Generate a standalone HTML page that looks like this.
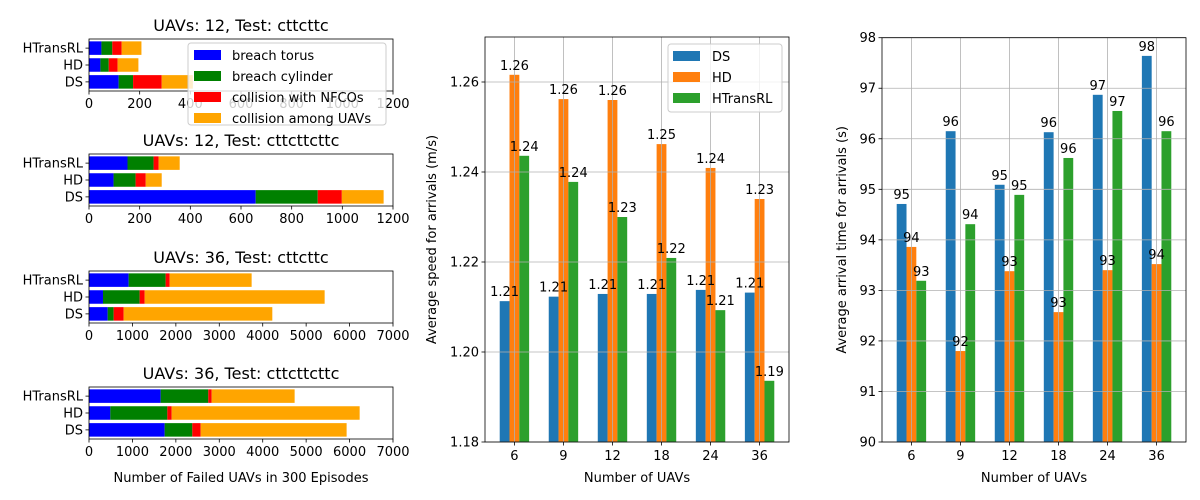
<!DOCTYPE html>
<html><head><meta charset="utf-8"><style>
html,body{margin:0;padding:0;background:#fff;}
svg{display:block;font-family:"DejaVu Sans","Liberation Sans",sans-serif;}
</style></head><body>
<svg id="fig" width="1200" height="500" viewBox="0 0 1200 500" xmlns="http://www.w3.org/2000/svg"></svg>
<script>
// ---------- data ----------
const methods = ["DS", "HD", "HTransRL"];
const failTypes = ["breach torus", "breach cylinder", "collision with NFCOs", "collision among UAVs"];
const failColors = ["#0000ff", "#008000", "#ff0000", "#ffa500"];
const panelTitles = ["UAVs: 12, Test: cttcttc", "UAVs: 12, Test: cttcttcttc", "UAVs: 36, Test: cttcttc", "UAVs: 36, Test: cttcttcttc"];
const panelXMax = [1200, 1200, 7000, 7000];
const panelTicks = [[0,200,400,600,800,1000,1200],[0,200,400,600,800,1000,1200],[0,1000,2000,3000,4000,5000,6000,7000],[0,1000,2000,3000,4000,5000,6000,7000]];
// cumulative ends per method [DS, HD, HTransRL], segments: torus, cylinder, NFCO, UAV
const p1 = [[117,174,287,410],[45,78,113,195],[49,92,129,207]];
const p2 = [[658,903,998,1163],[97,184,224,287],[152,255,275,358]];
const p3 = [[430,568,798,4221],[322,1166,1282,5426],[913,1765,1857,3745]];
const p4 = [[1742,2379,2571,5932],[491,1804,1903,6232],[1650,2747,2824,4735]];
const panelData = [p1, p2, p3, p4];

const uavs = ["6", "9", "12", "18", "24", "36"];
const speedDS = [1.2113, 1.2123, 1.2129, 1.2129, 1.2138, 1.2132];
const speedHD = [1.2616, 1.2562, 1.2560, 1.2462, 1.2409, 1.2340];
const speedHT = [1.2436, 1.2378, 1.2300, 1.2209, 1.2093, 1.1936];
const speedTicks = [1.18, 1.20, 1.22, 1.24, 1.26];
const timeDS = [94.71, 96.15, 95.09, 96.13, 96.87, 97.64];
const timeHD = [93.86, 91.80, 93.38, 92.57, 93.40, 93.52];
const timeHT = [93.19, 94.31, 94.89, 95.62, 96.55, 96.15];
const timeTicks = [90, 91, 92, 93, 94, 95, 96, 97, 98];
const barColors = ["#1f77b4", "#ff7f0e", "#2ca02c"];

// ---------- helpers ----------
const NS = "http://www.w3.org/2000/svg";
const svg = document.getElementById("fig");
function mk(tag, attrs, parent, text) {
  const e = document.createElementNS(NS, tag);
  for (const k in attrs) e.setAttribute(k, attrs[k]);
  if (text !== undefined) e.textContent = text;
  (parent || svg).appendChild(e);
  return e;
}

// ---------- left panels ----------
const LX0 = 89, LX1 = 393;
const panelTops = [39, 154, 271, 387];
const PH = 52;
panelTops.forEach((top, pi) => {
  const g = mk("g", {});
  
  
  const xs = v => LX0 + v / panelXMax[pi] * (LX1 - LX0);
  const ys = i => top + PH - (i + 0.54) / 3.08 * PH;
  const bh = 0.8 / 3.08 * PH;
  panelData[pi].forEach((ends, mi) => {
    let prev = 0;
    ends.forEach((end, si) => {
      const r = mk("rect", {x: xs(prev), y: ys(mi) - bh / 2, width: xs(end) - xs(prev), height: bh, fill: failColors[si]}, g);
      
      
      prev = end;
    });
    mk("line", {x1: LX0 - 3.5, x2: LX0, y1: ys(mi), y2: ys(mi), stroke: "#000", "stroke-width": 0.8}, g);
    const t = mk("text", {x: LX0 - 6, y: ys(mi) + 4.5, "text-anchor": "end", "font-size": 13}, g, methods[mi]);
    
    
  });
  mk("rect", {x: LX0, y: top, width: LX1 - LX0, height: PH, fill: "none", stroke: "#000", "stroke-width": 0.8}, g);
  panelTicks[pi].forEach(v => {
    mk("line", {x1: xs(v), x2: xs(v), y1: top + PH, y2: top + PH + 3.5, stroke: "#000", "stroke-width": 0.8}, g);
    const t = mk("text", {x: xs(v), y: top + PH + 17, "text-anchor": "middle", "font-size": 13}, g, String(v));
    
    
  });
  const tt = mk("text", {x: (LX0 + LX1) / 2, y: top - 8, "text-anchor": "middle", "font-size": 16}, g, panelTitles[pi]);
  
  
});
const lxl = mk("text", {x: 241, y: 482, "text-anchor": "middle", "font-size": 13}, svg, "Number of Failed UAVs in 300 Episodes");



// left legend
const lg = mk("g", {});


mk("rect", {x: 188, y: 43, width: 198, height: 82, rx: 3, fill: "#fff", "fill-opacity": 0.8, stroke: "#ccc"}, lg);
failTypes.forEach((n, i) => {
  const yy = 55 + i * 21;
  mk("rect", {x: 194, y: yy - 5, width: 27, height: 10, fill: failColors[i]}, lg);
  const t = mk("text", {x: 232, y: yy + 5, "font-size": 13}, lg, n);
  
  
});

// ---------- grouped bar charts ----------
function groupChart(name, X0, X1, Y0, Y1, ymin, ymax, ticks, tickFmt, series, labFmt, ylabel, ylabX) {
  const g = mk("g", {});
  
  
  const xs = i => X0 + (i + 0.6) / 6.2 * (X1 - X0);
  const ys = v => Y1 - (v - ymin) / (ymax - ymin) * (Y1 - Y0);
  const bw = 0.2 / 6.2 * (X1 - X0);
  series.forEach((vals, si) => {
    vals.forEach((v, i) => {
      const cx = xs(i) + (si - 1) * bw;
      const r = mk("rect", {x: cx - bw / 2, y: ys(v), width: bw, height: Y1 - ys(v), fill: barColors[si]}, g);
      
      
    });
  });
  // grid
  ticks.forEach(v => mk("line", {x1: X0, x2: X1, y1: ys(v), y2: ys(v), stroke: "#b0b0b0", "stroke-width": 0.8}, g));
  uavs.forEach((u, i) => mk("line", {x1: xs(i), x2: xs(i), y1: Y0, y2: Y1, stroke: "#b0b0b0", "stroke-width": 0.8}, g));
  // value labels
  series.forEach((vals, si) => {
    vals.forEach((v, i) => {
      const cx = xs(i) + (si - 1) * bw;
      const t = mk("text", {x: cx, y: ys(v) - 5, "text-anchor": "middle", "font-size": 13}, g, labFmt(v));
      
      
    });
  });
  mk("rect", {x: X0, y: Y0, width: X1 - X0, height: Y1 - Y0, fill: "none", stroke: "#000", "stroke-width": 0.8}, g);
  ticks.forEach(v => {
    mk("line", {x1: X0 - 3.5, x2: X0, y1: ys(v), y2: ys(v), stroke: "#000", "stroke-width": 0.8}, g);
    const t = mk("text", {x: X0 - 6, y: ys(v) + 4.5, "text-anchor": "end", "font-size": 13}, g, tickFmt(v));
    
    
  });
  uavs.forEach((u, i) => {
    mk("line", {x1: xs(i), x2: xs(i), y1: Y1, y2: Y1 + 3.5, stroke: "#000", "stroke-width": 0.8}, g);
    const t = mk("text", {x: xs(i), y: Y1 + 18, "text-anchor": "middle", "font-size": 13}, g, u);
    
    
  });
  const xt = mk("text", {x: (X0 + X1) / 2, y: 482, "text-anchor": "middle", "font-size": 13}, g, "Number of UAVs");
  
  
  const yt = mk("text", {x: ylabX, y: (Y0 + Y1) / 2, "text-anchor": "middle", "font-size": 13, transform: `rotate(-90 ${ylabX} ${(Y0 + Y1) / 2})`}, g, ylabel);
  
  
  return g;
}
groupChart("speed-chart", 485, 789, 37, 442, 1.18, 1.27, speedTicks, v => v.toFixed(2),
  [speedDS, speedHD, speedHT], v => v.toFixed(2), "Average speed for arrivals (m/s)", 436);
groupChart("time-chart", 882, 1186, 37.7, 442, 90, 98, timeTicks, v => String(v),
  [timeDS, timeHD, timeHT], v => String(Math.round(v)), "Average arrival time for arrivals (s)", 846);

// middle legend
const ml = mk("g", {});


mk("rect", {x: 668, y: 44, width: 114, height: 68, rx: 3, fill: "#fff", "fill-opacity": 0.8, stroke: "#ccc"}, ml);
methods.forEach((m, i) => {
  const yy = 56 + i * 21;
  mk("rect", {x: 673, y: yy - 5, width: 27, height: 10, fill: barColors[i]}, ml);
  const t = mk("text", {x: 712, y: yy + 5, "font-size": 13}, ml, m);
  
  
});
</script>
</body></html>
